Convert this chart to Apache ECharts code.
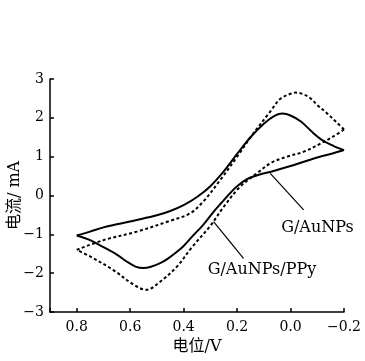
<!DOCTYPE html>
<html>
<head>
<meta charset="utf-8">
<script src="https://cdn.jsdelivr.net/npm/echarts@6/dist/echarts.min.js"></script>
<style>
  html, body { margin: 0; padding: 0; background: #fff; }
  #chart { width: 365px; height: 361px; }
</style>
</head>
<body>
<div id="chart"></div>
<script>
// Cyclic voltammograms: potential (V) vs current (mA)
// G/AuNPs electrode — forward sweep (0.8 V → -0.2 V) and return sweep
var auForward = [
  [0.80, -1.03], [0.75, -0.93], [0.70, -0.82], [0.65, -0.74], [0.575, -0.63],
  [0.50, -0.51], [0.45, -0.40], [0.40, -0.25], [0.35, -0.04], [0.30, 0.24],
  [0.25, 0.62], [0.20, 1.07], [0.15, 1.50], [0.10, 1.85], [0.06, 2.05],
  [0.03, 2.11], [0.00, 2.06], [-0.04, 1.90], [-0.08, 1.64], [-0.12, 1.42],
  [-0.16, 1.28], [-0.20, 1.17]
];
var auReturn = [
  [-0.20, 1.17], [-0.15, 1.07], [-0.11, 1.00], [-0.05, 0.87], [0.01, 0.74],
  [0.07, 0.62], [0.10, 0.57], [0.13, 0.51], [0.163, 0.42], [0.20, 0.24],
  [0.226, 0.06], [0.26, -0.20], [0.288, -0.42], [0.33, -0.78], [0.363, -1.02],
  [0.40, -1.30], [0.425, -1.45], [0.46, -1.63], [0.49, -1.75], [0.52, -1.83],
  [0.55, -1.87], [0.58, -1.83], [0.613, -1.70], [0.65, -1.52], [0.70, -1.33],
  [0.75, -1.15], [0.80, -1.03]
];
// G/AuNPs/PPy electrode
var ppyForward = [
  [0.80, -1.40], [0.70, -1.15], [0.575, -0.93], [0.45, -0.65], [0.376, -0.46],
  [0.326, -0.15], [0.263, 0.40], [0.20, 1.00], [0.139, 1.60], [0.076, 2.16],
  [0.04, 2.48], [0.00, 2.62], [-0.02, 2.65], [-0.05, 2.60], [-0.075, 2.50],
  [-0.10, 2.33], [-0.136, 2.12], [-0.17, 1.90], [-0.20, 1.70]
];
var ppyReturn = [
  [-0.20, 1.70], [-0.16, 1.52], [-0.11, 1.33], [-0.05, 1.13], [0.013, 1.00],
  [0.07, 0.85], [0.126, 0.57], [0.188, 0.23], [0.25, -0.29], [0.30, -0.78],
  [0.37, -1.34], [0.425, -1.83], [0.488, -2.22], [0.54, -2.43], [0.59, -2.28],
  [0.663, -1.92], [0.75, -1.57], [0.80, -1.40]
];
// Callout leaders and labels
var auLeader = [[0.076, 0.57], [-0.049, -0.37]];
var ppyLeader = [[0.288, -0.67], [0.176, -1.62]];
var auLabel = [0.035, -0.84, 'G/AuNPs'];
var ppyLabel = [0.31, -1.92, 'G/AuNPs/PPy'];

var xTicks = [-0.2, 0.0, 0.2, 0.4, 0.6, 0.8];
var yTicks = [-3, -2, -1, 0, 1, 2, 3];

var serif = '"DejaVu Serif", "Noto Sans CJK SC", serif';
var fmtMinus = function (s) { return s.replace('-', '\u2212'); };

var solidStyle = { color: '#000', width: 2, type: 'solid' };
var dashStyle = { color: '#000', width: 2, type: [3, 2.5] };

function curve(data, style) {
  return {
    type: 'line', data: data, smooth: 0.35, symbol: 'none',
    lineStyle: style, silent: true, animation: false, z: 3
  };
}
function leader(data) {
  return {
    type: 'line', data: data, symbol: 'none', silent: true, animation: false,
    lineStyle: { color: '#000', width: 1.2 }
  };
}
function label(p) {
  return {
    type: 'scatter', data: [[p[0], p[1]]], symbolSize: 0, silent: true, animation: false,
    itemStyle: { opacity: 1, color: '#000' },
    label: {
      show: true, position: 'right', distance: 0, formatter: p[2], opacity: 1,
      color: '#000', fontFamily: serif, fontSize: 16
    }
  };
}

var chart = echarts.init(document.getElementById('chart'), null, { renderer: 'canvas' });
chart.setOption({
  backgroundColor: '#fff',
  animation: false,
  grid: { left: 50, right: 21, top: 79, bottom: 49, containLabel: false, outerBoundsMode: 'none' },
  xAxis: {
    type: 'value', inverse: true, min: -0.2, max: 0.9, interval: 0.2,
    name: '电位/V', nameLocation: 'middle', nameGap: 27, nameMoveOverlap: false,
    nameTextStyle: { color: '#000', fontFamily: serif, fontSize: 16, verticalAlign: 'top' },
    axisLine: { show: true, onZero: false, lineStyle: { color: '#000', width: 1.5 } },
    axisTick: { show: true, inside: true, length: 4, lineStyle: { color: '#000', width: 1.5 } },
    axisLabel: {
      color: '#000', fontFamily: serif, fontSize: 14, margin: 8,
      showMinLabel: true, showMaxLabel: true,
      formatter: function (v) {
        var hit = xTicks.some(function (t) { return Math.abs(t - v) < 1e-6; });
        return hit ? fmtMinus(v.toFixed(1)) : '';
      }
    },
    splitLine: { show: false }
  },
  yAxis: {
    type: 'value', min: -3, max: 3, interval: 1,
    name: '电流/ mA', nameLocation: 'middle', nameGap: 27, nameRotate: 90, nameMoveOverlap: false,
    nameTextStyle: { color: '#000', fontFamily: serif, fontSize: 16 },
    axisLine: { show: true, onZero: false, lineStyle: { color: '#000', width: 1.5 } },
    axisTick: { show: true, inside: true, length: 4, lineStyle: { color: '#000', width: 1.5 } },
    axisLabel: {
      color: '#000', fontFamily: serif, fontSize: 14, margin: 6,
      formatter: function (v) {
        var hit = yTicks.indexOf(v) >= 0;
        return hit ? fmtMinus(String(v)) : '';
      }
    },
    splitLine: { show: false }
  },
  series: [
    curve(auForward, solidStyle),
    curve(auReturn, solidStyle),
    curve(ppyForward, dashStyle),
    curve(ppyReturn, dashStyle),
    leader(auLeader),
    leader(ppyLeader),
    label(auLabel),
    label(ppyLabel)
  ]
});
</script>
</body>
</html>
